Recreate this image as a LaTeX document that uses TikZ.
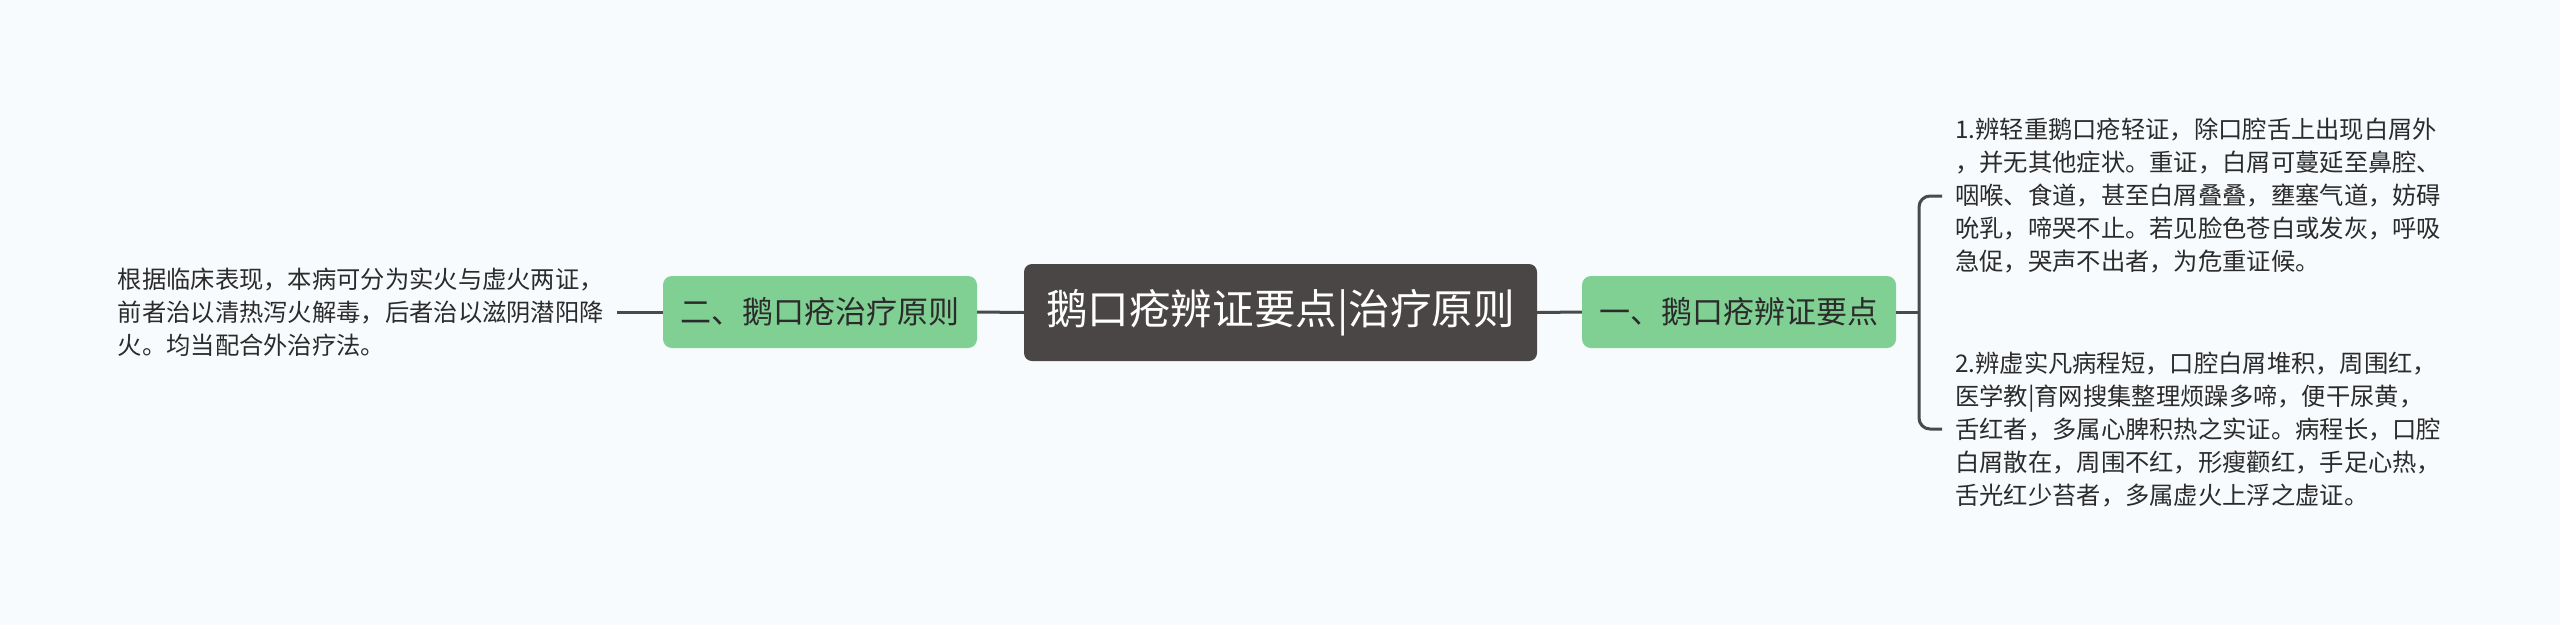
\documentclass[tikz,border=0pt]{standalone}
\usepackage{fontspec}
\setmainfont{Noto Sans CJK SC}
\usetikzlibrary{positioning}
\definecolor{bgc}{HTML}{F8FBFD}
\definecolor{darkc}{HTML}{4B4646}
\definecolor{greenc}{HTML}{80CF93}
\definecolor{linec}{HTML}{4A4A4A}
\definecolor{txtc}{HTML}{2B2B2B}
\tikzset{
  rootbox/.style={fill=darkc, rounded corners=8pt, minimum width=513pt, minimum height=97pt, inner sep=0pt, text=white, font=\fontsize{41.6}{48}\selectfont},
  subbox/.style={fill=greenc, rounded corners=9pt, minimum width=314pt, minimum height=72pt, inner sep=0pt, text=txtc, font=\fontsize{31}{36}\selectfont},
  leaftext/.style={align=left, inner xsep=13pt, inner ysep=2pt, text=txtc, font=\fontsize{24.3}{33}\selectfont},
  conn/.style={draw=linec, line width=3pt},
}
\begin{document}
\begin{tikzpicture}[x=1pt,y=-1pt]
\fill[bgc] (0,0) rectangle (2560,625);
\useasboundingbox (0,0) rectangle (2560,625);
\node[rootbox] (root) at (1280.5,312.5) {鹅口疮辨证要点|治疗原则};
\node[subbox] (left) at (820,312) {二、鹅口疮治疗原则};
\node[subbox] (right) at (1739,312) {一、鹅口疮辨证要点};
\node[leaftext, anchor=east] (lt) at (617,312) {根据临床表现，本病可分为实火与虚火两证，\\前者治以清热泻火解毒，后者治以滋阴潜阳降\\火。均当配合外治疗法。};
\node[leaftext, anchor=west] (t1) at (1942,196) {1.辨轻重鹅口疮轻证，除口腔舌上出现白屑外\\，并无其他症状。重证，白屑可蔓延至鼻腔、\\咽喉、食道，甚至白屑叠叠，壅塞气道，妨碍\\吮乳，啼哭不止。若见脸色苍白或发灰，呼吸\\急促，哭声不出者，为危重证候。};
\node[leaftext, anchor=west] (t2) at (1942,429) {2.辨虚实凡病程短，口腔白屑堆积，周围红，\\医学教|育网搜集整理烦躁多啼，便干尿黄，\\舌红者，多属心脾积热之实证。病程长，口腔\\白屑散在，周围不红，形瘦颧红，手足心热，\\舌光红少苔者，多属虚火上浮之虚证。};
\coordinate (bk) at (1919,312);
\draw[conn] (root.west) -- (left.east);
\draw[conn] (root.east) -- (right.west);
\draw[conn] (left.west) -- (lt.east);
\draw[conn] (right.east) -- (bk);
\draw[conn, rounded corners=11pt] (t1.west) -| (bk) |- (t2.west);
\end{tikzpicture}
\end{document}
